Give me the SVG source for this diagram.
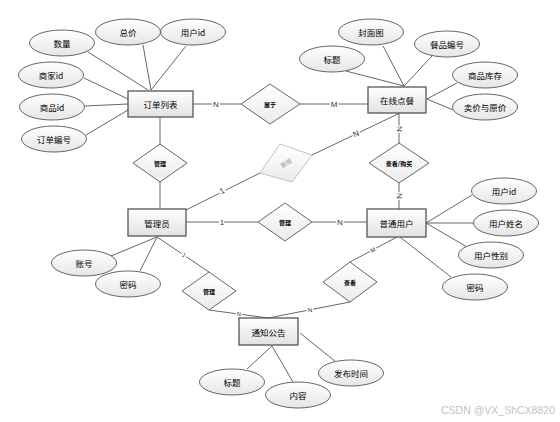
<svg xmlns="http://www.w3.org/2000/svg" width="560" height="422" viewBox="0 0 560 422">
<defs>
<linearGradient id="gE" x1="0" y1="0" x2="0" y2="1"><stop offset="0" stop-color="#ffffff"/><stop offset="1" stop-color="#e2e2e2"/></linearGradient>
<linearGradient id="gA" x1="0" y1="0" x2="0" y2="1"><stop offset="0" stop-color="#ffffff"/><stop offset="1" stop-color="#e6e6e6"/></linearGradient>
<linearGradient id="gR" x1="0" y1="0" x2="0" y2="1"><stop offset="0" stop-color="#ffffff"/><stop offset="1" stop-color="#ebebeb"/></linearGradient>
<style>
text{font-family:"Noto Sans CJK SC","Liberation Sans",sans-serif;fill:#000;text-anchor:middle;dominant-baseline:central}
.ent rect{fill:url(#gE);stroke:#555;stroke-width:1.3}
.ent text{font-size:8.5px}
.att ellipse{fill:url(#gA);stroke:#555;stroke-width:0.9}
.att text{font-size:8.5px}
.rel polygon{fill:url(#gR);stroke:#555;stroke-width:0.9}
.rel text{font-size:6px;font-weight:bold}
.lines line{stroke:#555;stroke-width:0.9}
.lbl{font-family:"Liberation Sans",sans-serif;font-size:8px;stroke:#fff;stroke-width:3;paint-order:stroke;fill:#333}
</style>
</defs>
<rect width="560" height="422" fill="#fff"/>
<g id="connectors" class="lines">
<line x1="88" y1="52" x2="148" y2="90"/>
<line x1="143" y1="45" x2="151" y2="90"/>
<line x1="186" y1="46" x2="151" y2="90"/>
<line x1="84" y1="78" x2="128" y2="99"/>
<line x1="85" y1="106" x2="128" y2="104"/>
<line x1="86" y1="135" x2="128" y2="110"/>
<line x1="346" y1="71" x2="404" y2="86"/>
<line x1="383" y1="46" x2="404" y2="86"/>
<line x1="432" y1="56" x2="404" y2="86"/>
<line x1="457" y1="83" x2="427" y2="99"/>
<line x1="453" y1="110" x2="427" y2="99"/>
<line x1="472" y1="195" x2="426" y2="223"/>
<line x1="473" y1="223" x2="426" y2="223"/>
<line x1="467" y1="247" x2="426" y2="223"/>
<line x1="451" y1="277" x2="400" y2="237"/>
<line x1="111" y1="256" x2="157" y2="237"/>
<line x1="140" y1="271" x2="157" y2="237"/>
<line x1="247" y1="369" x2="272" y2="346"/>
<line x1="293" y1="382" x2="272" y2="346"/>
<line x1="336" y1="362" x2="300" y2="333"/>
<line x1="193" y1="104" x2="241" y2="104"/>
<line x1="300" y1="104" x2="368" y2="104"/>
<line x1="160" y1="117" x2="160" y2="144"/>
<line x1="160" y1="182" x2="160" y2="209"/>
<line x1="186" y1="210" x2="260" y2="173"/>
<line x1="312" y1="155" x2="400" y2="113"/>
<line x1="399" y1="113" x2="399" y2="143"/>
<line x1="399" y1="183" x2="399" y2="209"/>
<line x1="186" y1="222" x2="258" y2="222"/>
<line x1="312" y1="222" x2="367" y2="222"/>
<line x1="157" y1="237" x2="209" y2="272"/>
<line x1="209" y1="310" x2="268" y2="318"/>
<line x1="397" y1="237" x2="350" y2="262"/>
<line x1="350" y1="302" x2="268" y2="318"/>
<text class="lbl" x="216" y="104">N</text>
<text class="lbl" x="334" y="104">M</text>
<text class="lbl" x="222" y="191" transform="rotate(-27 222 191)">1</text>
<text class="lbl" x="356" y="134" transform="rotate(-25 356 134)">N</text>
<text class="lbl" x="399" y="129" transform="rotate(90 399 129)">N</text>
<text class="lbl" x="399" y="196" transform="rotate(90 399 196)">N</text>
<text class="lbl" x="222" y="222">1</text>
<text class="lbl" x="340" y="222">N</text>
<text class="lbl" x="184" y="255" transform="rotate(34 184 255)" style="font-size:6px">1</text>
<text class="lbl" x="239" y="314" transform="rotate(8 239 314)" style="font-size:6px">N</text>
<text class="lbl" x="373" y="250" transform="rotate(-28 373 250)" style="font-size:6px">M</text>
<text class="lbl" x="310" y="310" transform="rotate(-11 310 310)" style="font-size:6px">N</text>
</g>
<g id="e-order" class="ent"><rect x="128" y="91" width="65" height="26"/><text x="160.5" y="104">订单列表</text></g>
<g id="e-food" class="ent"><rect x="368" y="87" width="58" height="26"/><text x="397" y="100">在线点餐</text></g>
<g id="e-admin" class="ent"><rect x="128" y="209" width="58" height="27"/><text x="157" y="222.5">管理员</text></g>
<g id="e-user" class="ent"><rect x="367" y="209" width="59" height="28"/><text x="396.5" y="223">普通用户</text></g>
<g id="e-notice" class="ent"><rect x="239" y="318" width="59" height="27"/><text x="268.5" y="331.5">通知公告</text></g>
<g id="a-qty" class="att"><ellipse cx="62" cy="43" rx="32.5" ry="13"/><text x="62" y="43">数量</text></g>
<g id="a-total" class="att"><ellipse cx="128" cy="32" rx="32.5" ry="13"/><text x="128" y="32">总价</text></g>
<g id="a-uid1" class="att"><ellipse cx="193" cy="32" rx="32.5" ry="13"/><text x="193" y="32">用户id</text></g>
<g id="a-shopid" class="att"><ellipse cx="51" cy="75" rx="32.5" ry="13"/><text x="51" y="75">商家id</text></g>
<g id="a-goodsid" class="att"><ellipse cx="52" cy="107" rx="32.5" ry="13"/><text x="52" y="107">商品id</text></g>
<g id="a-orderno" class="att"><ellipse cx="54" cy="139" rx="32.5" ry="13"/><text x="54" y="139">订单编号</text></g>
<g id="a-cover" class="att"><ellipse cx="371" cy="32" rx="32.5" ry="13"/><text x="371" y="32">封面图</text></g>
<g id="a-title1" class="att"><ellipse cx="332" cy="59" rx="32.5" ry="13"/><text x="332" y="59">标题</text></g>
<g id="a-foodno" class="att"><ellipse cx="447" cy="44" rx="32.5" ry="13"/><text x="447" y="44">餐品编号</text></g>
<g id="a-stock" class="att"><ellipse cx="485" cy="75" rx="32.5" ry="13"/><text x="485" y="75">商品库存</text></g>
<g id="a-price" class="att"><ellipse cx="485" cy="107" rx="32.5" ry="13"/><text x="485" y="107">卖价与原价</text></g>
<g id="a-uid2" class="att"><ellipse cx="504" cy="191" rx="32.5" ry="13"/><text x="504" y="191">用户id</text></g>
<g id="a-uname" class="att"><ellipse cx="506" cy="223" rx="32.5" ry="13"/><text x="506" y="223">用户姓名</text></g>
<g id="a-usex" class="att"><ellipse cx="491" cy="255" rx="32.5" ry="13"/><text x="491" y="255">用户性别</text></g>
<g id="a-upwd" class="att"><ellipse cx="475" cy="287" rx="32.5" ry="13"/><text x="475" y="287">密码</text></g>
<g id="a-acct" class="att"><ellipse cx="84" cy="263" rx="32.5" ry="13"/><text x="84" y="263">账号</text></g>
<g id="a-apwd" class="att"><ellipse cx="128" cy="284" rx="32.5" ry="13"/><text x="128" y="284">密码</text></g>
<g id="a-title2" class="att"><ellipse cx="232" cy="382" rx="32.5" ry="13"/><text x="232" y="382">标题</text></g>
<g id="a-content" class="att"><ellipse cx="298" cy="395" rx="32.5" ry="13"/><text x="298" y="395">内容</text></g>
<g id="a-time" class="att"><ellipse cx="351" cy="373" rx="32.5" ry="13"/><text x="351" y="373">发布时间</text></g>
<g id="r-belong" class="rel"><polygon points="241,104 270,84 300,104 270,124"/><text x="270" y="104">属于</text></g>
<g id="r-manage1" class="rel"><polygon points="133,163 160,144 187,163 160,182"/><text x="160" y="163">管理</text></g>
<g id="r-manage2" class="rel"><polygon points="260,173 280,144 312,155 292,182" style="stroke:#bbb"/><text x="286" y="163" transform="rotate(-32 286 163)" style="fill:#999;font-weight:normal">管理</text></g>
<g id="r-buy" class="rel"><polygon points="369,163 399,143 429,163 399,183"/><text x="399" y="163">查看/购买</text></g>
<g id="r-manage3" class="rel"><polygon points="258,222 285,203 312,222 285,241"/><text x="285" y="222">管理</text></g>
<g id="r-manage4" class="rel"><polygon points="182,291 209,272 236,291 209,310"/><text x="209" y="291">管理</text></g>
<g id="r-view" class="rel"><polygon points="323,282 350,262 377,282 350,302"/><text x="350" y="282">查看</text></g>
<text x="498" y="410" style="font-family:'Liberation Sans',sans-serif;font-size:10.5px;fill:#c4c4c4">CSDN @VX_ShCX8820</text>
</svg>
